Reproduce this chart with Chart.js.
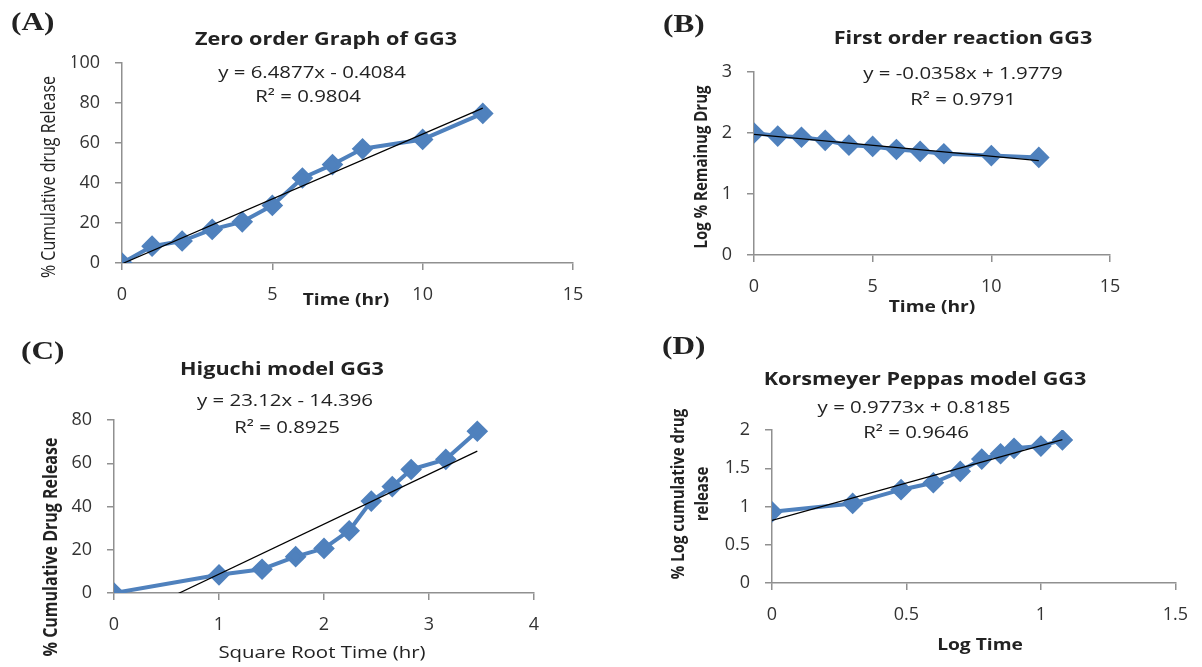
<!DOCTYPE html>
<html>
<head>
<meta charset="utf-8">
<script src="https://cdn.jsdelivr.net/npm/chart.js@4/dist/chart.umd.min.js"></script>
<style>
  body { margin: 0; background: #fff; }
  #page { position: relative; width: 1202px; height: 667px; overflow: hidden; }
  canvas { position: absolute; }
</style>
</head>
<body>
<div id="page">
  <canvas id="zero-chart" width="600" height="320" style="left:0;top:0"></canvas>
  <canvas id="first-chart" width="602" height="320" style="left:600px;top:0"></canvas>
  <canvas id="higuchi-chart" width="600" height="347" style="left:0;top:320px"></canvas>
  <canvas id="peppas-chart" width="602" height="347" style="left:600px;top:320px"></canvas>
</div>

<script>
// values
var timeHr        = [0, 1, 2, 3, 4, 5, 6, 7, 8, 10, 12];
var cumRelease    = [0, 8.4, 11.0, 16.8, 20.6, 28.8, 42.5, 49.2, 57.1, 61.8, 74.8];
var logRemaining  = [2.00, 1.95, 1.93, 1.88, 1.80, 1.78, 1.73, 1.70, 1.66, 1.63, 1.60];
var sqrtTime      = [0, 1, 1.41, 1.73, 2, 2.24, 2.45, 2.65, 2.83, 3.16, 3.46];
var logTime       = [0, 0.30, 0.48, 0.60, 0.70, 0.78, 0.85, 0.90, 1.00, 1.08];
var logCumRelease = [0.93, 1.04, 1.22, 1.31, 1.46, 1.62, 1.69, 1.76, 1.79, 1.87];

// trendline slope / intercept as printed on each chart
var zeroFit    = [6.4877, -0.4084];
var firstFit   = [-0.0358, 1.9779];
var higuchiFit = [23.12, -14.396];
var peppasFit  = [0.9773, 0.8185];

var blue = "#4F81BD";
var axisGrey = "#909090";
var stretch = 1.2;   // the source figure is stretched sideways

Chart.defaults.font.family = "'Open Sans', sans-serif";
Chart.defaults.color = "#333";

// draws titles, equations and axis titles at fixed spots
var textPlugin = {
  id: "panelText",
  afterDraw: function (chart, args, opts) {
    var ctx = chart.ctx;
    (opts.items || []).forEach(function (it) {
      ctx.save();
      ctx.font = it.font;
      ctx.fillStyle = "#222";
      ctx.textAlign = it.align || "center";
      ctx.textBaseline = "middle";
      ctx.translate(it.x, it.y);
      ctx.scale(stretch, 1);
      if (it.rotate) ctx.rotate(-Math.PI / 2);
      ctx.fillText(it.text, 0, 0);
      ctx.restore();
    });
  }
};

function points(xs, ys) {
  return xs.map(function (x, i) { return { x: x, y: ys[i] }; });
}

function trend(xs, fit) {
  var a = xs[0], b = xs[xs.length - 1];
  return [{ x: a, y: fit[0] * a + fit[1] }, { x: b, y: fit[0] * b + fit[1] }];
}

function axis(min, max, step, pad) {
  return {
    type: "linear",
    min: min,
    max: max,
    ticks: {
      stepSize: step,
      padding: pad,
      color: "#333",
      font: { size: 18 },
      callback: function (v) { return String(v); }
    },
    grid: { drawOnChartArea: false, drawTicks: true, tickLength: 7, color: axisGrey, lineWidth: 1.5 },
    border: { color: axisGrey, width: 1.5 }
  };
}

function drawChart(id, area, xAxis, yAxis, xs, ys, fit, items) {
  var canvas = document.getElementById(id);
  var W = canvas.width, H = canvas.height;
  var yW = 50, xH = 40;
  xAxis.afterFit = function (s) { s.height = xH; };
  yAxis.afterFit = function (s) { s.width = yW; };

  return new Chart(canvas, {
    type: "scatter",
    data: {
      datasets: [{
        data: trend(xs, fit),
        showLine: true,
        borderColor: "#000",
        borderWidth: 1.2,
        pointRadius: 0,
        order: 0
      }, {
        data: points(xs, ys),
        showLine: true,
        borderColor: blue,
        borderWidth: 4,
        borderJoinStyle: "round",
        pointStyle: "rectRot",
        pointRadius: 8,
        pointBackgroundColor: blue,
        pointBorderColor: blue,
        order: 1
      }]
    },
    options: {
      responsive: false,
      animation: false,
      layout: {
        padding: { left: area.l - yW, top: area.t, right: W - area.r, bottom: H - area.b - xH }
      },
      scales: { x: xAxis, y: yAxis },
      plugins: {
        legend: { display: false },
        tooltip: { enabled: false },
        panelText: { items: items }
      }
    },
    plugins: [textPlugin]
  });
}

var label = "bold 26px 'Liberation Serif', serif";
var titleFont = "bold 18px 'Open Sans'";
var eqFont = "17px 'Open Sans'";

drawChart("zero-chart", { l: 122, t: 63, r: 573, b: 263 },
  axis(0, 15, 5, 14), axis(0, 100, 20, 15), timeHr, cumRelease, zeroFit, [
    { text: "(A)", x: 11, y: 23, font: label, align: "left" },
    { text: "Zero order Graph of GG3", x: 326, y: 40, font: titleFont },
    { text: "y = 6.4877x - 0.4084", x: 312, y: 73, font: eqFont },
    { text: "R\u00b2 = 0.9804", x: 308, y: 97, font: eqFont },
    { text: "% Cumulative drug Release", x: 50, y: 177, font: "16px 'Open Sans'", rotate: true },
    { text: "Time (hr)", x: 346, y: 300, font: "bold 16px 'Open Sans'" }
  ]);

drawChart("first-chart", { l: 154, t: 72, r: 510, b: 255 },
  axis(0, 15, 5, 14), axis(0, 3, 1, 15), timeHr, logRemaining, firstFit, [
    { text: "(B)", x: 63, y: 25, font: label, align: "left" },
    { text: "First order reaction GG3", x: 363, y: 39, font: titleFont },
    { text: "y = -0.0358x + 1.9779", x: 363, y: 74, font: eqFont },
    { text: "R\u00b2 = 0.9791", x: 363, y: 100, font: eqFont },
    { text: "Log % Remainug Drug", x: 102, y: 167, font: "bold 15px 'Open Sans'", rotate: true },
    { text: "Time (hr)", x: 332, y: 307, font: "bold 16px 'Open Sans'" }
  ]);

drawChart("higuchi-chart", { l: 114, t: 100, r: 534, b: 273 },
  axis(0, 4, 1, 14), axis(0, 80, 20, 15), sqrtTime, cumRelease, higuchiFit, [
    { text: "(C)", x: 21, y: 32, font: label, align: "left" },
    { text: "Higuchi model GG3", x: 282, y: 50, font: titleFont },
    { text: "y = 23.12x - 14.396", x: 285, y: 81, font: eqFont },
    { text: "R\u00b2 = 0.8925", x: 287, y: 108, font: eqFont },
    { text: "% Cumulative Drug Release", x: 52, y: 227, font: "bold 16px 'Open Sans'", rotate: true },
    { text: "Square Root Time (hr)", x: 322, y: 333, font: "17px 'Open Sans'" }
  ]);

drawChart("peppas-chart", { l: 172, t: 110, r: 587, b: 263 },
  axis(0, 1.5, 0.5, 14), axis(0, 2, 0.5, 15), logTime, logCumRelease, peppasFit, [
    { text: "(D)", x: 62, y: 27, font: label, align: "left" },
    { text: "Korsmeyer Peppas model GG3", x: 325, y: 60, font: titleFont },
    { text: "y = 0.9773x + 0.8185", x: 314, y: 88, font: eqFont },
    { text: "R\u00b2 = 0.9646", x: 316, y: 113, font: eqFont },
    { text: "% Log cumulative drug", x: 79, y: 174, font: "bold 15px 'Open Sans'", rotate: true },
    { text: "release", x: 103, y: 174, font: "bold 15px 'Open Sans'", rotate: true },
    { text: "Log Time", x: 380, y: 325, font: "bold 16px 'Open Sans'" }
  ]);
</script>
</body>
</html>
